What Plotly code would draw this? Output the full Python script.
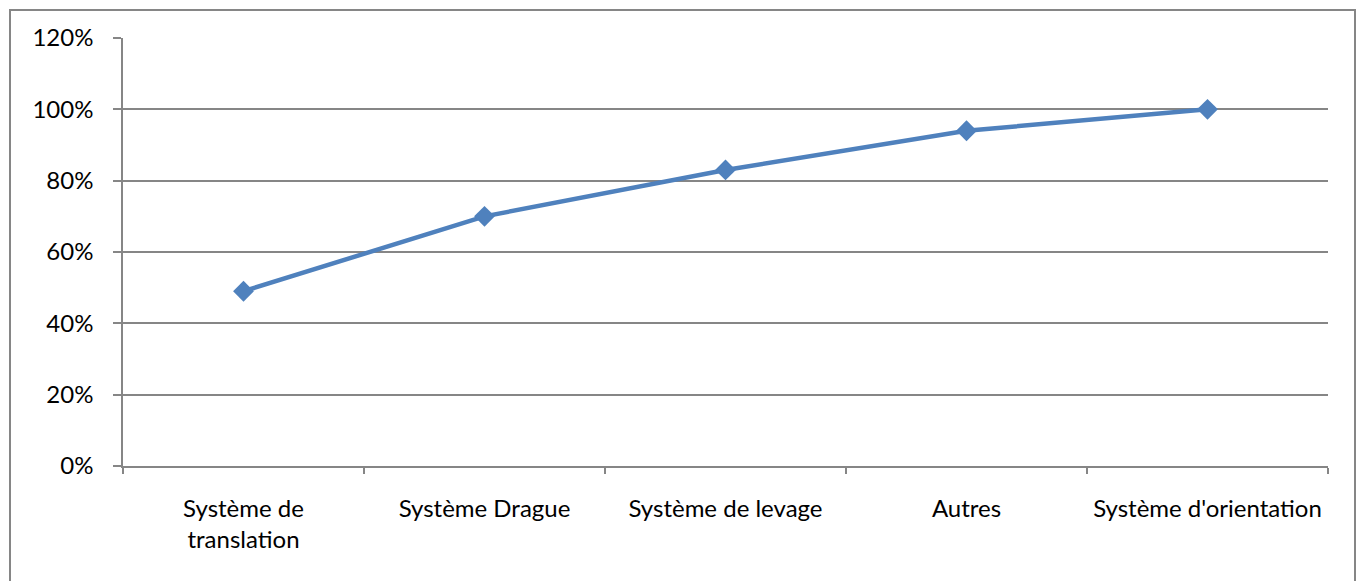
import plotly.graph_objects as go

# Cumulative share of failures by subsystem (Pareto-style curve)
categories = [
    "Système de<br>translation",
    "Système Drague",
    "Système de levage",
    "Autres",
    "Système d'orientation",
]
cumulative_share = [0.49, 0.70, 0.83, 0.94, 1.00]

y_ticks = [0, 0.2, 0.4, 0.6, 0.8, 1.0, 1.2]
y_tick_text = ["0%", "20%", "40%", "60%", "80%", "100%", "120%"]

W, H = 1362, 581
L, R, T, B = 123, 1328, 38, 466  # plot-area edges in pixels

grid = "#868686"
blue = "#4F81BD"
font = dict(family="Lato, 'Open Sans', sans-serif", size=24, color="#000000")

fig = go.Figure(
    go.Scatter(
        x=categories,
        y=cumulative_share,
        mode="lines+markers",
        line=dict(color=blue, width=4.5),
        marker=dict(symbol="diamond", size=16, color=blue),
        hoverinfo="skip",
    )
)


def px_to_paper_x(px):
    return (px - L) / (R - L)


def px_to_paper_y(py):
    return (B - py) / (B - T)


# Chart frame around the whole figure
fig.add_shape(
    type="rect",
    xref="paper",
    yref="paper",
    x0=px_to_paper_x(10),
    x1=px_to_paper_x(1355),
    y0=px_to_paper_y(600),
    y1=px_to_paper_y(10),
    line=dict(color=grid, width=2),
    fillcolor="rgba(0,0,0,0)",
    layer="below",
)

fig.update_layout(
    width=W,
    height=H,
    margin=dict(l=L, r=W - R, t=T, b=H - B),
    paper_bgcolor="white",
    plot_bgcolor="white",
    showlegend=False,
    font=font,
    xaxis=dict(
        type="category",
        showgrid=False,
        showline=True,
        linecolor=grid,
        linewidth=1.5,
        ticks="outside",
        tickson="boundaries",
        ticklen=6,
        tickcolor=grid,
        tickwidth=1.5,
        ticklabelstandoff=20,
        tickfont=font,
        range=[-0.5, 4.5],
        fixedrange=True,
    ),
    yaxis=dict(
        range=[0, 1.2],
        tickvals=y_ticks,
        ticktext=y_tick_text,
        showgrid=True,
        gridcolor=grid,
        gridwidth=1.5,
        showline=True,
        linecolor=grid,
        linewidth=1.5,
        ticks="outside",
        ticklen=8,
        tickcolor=grid,
        tickwidth=1.5,
        ticklabelstandoff=15,
        tickfont=font,
        zeroline=False,
        fixedrange=True,
    ),
)

fig.write_html("out.html")
